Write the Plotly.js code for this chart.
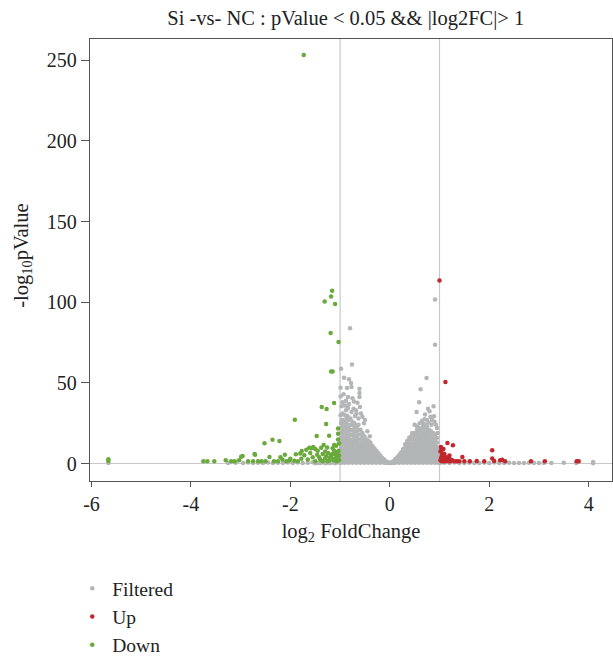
<!DOCTYPE html>
<html><head><meta charset="utf-8">
<script src="https://cdn.plot.ly/plotly-3.0.1.min.js"></script>
<style>html,body{margin:0;padding:0;background:#fff}#chart{width:613px;height:663px}</style>
</head><body><div id="chart"></div>
<script>
// Dense "Filtered" cloud, read column by column (x = log2FC, y = -log10 p)
const lobeX = [-0.98,-0.95,-0.91,-0.87,-0.83,-0.79,-0.75,-0.71,-0.67,-0.63,-0.59,-0.55,-0.51,-0.47,-0.43,-0.39,-0.35,-0.31,-0.27,-0.23,-0.19,-0.15,-0.11,-0.07,-0.03,
               0.03,0.07,0.11,0.15,0.19,0.23,0.27,0.31,0.35,0.39,0.43,0.47,0.51,0.55,0.59,0.63,0.67,0.71,0.75,0.79,0.83,0.87,0.91,0.95,0.98];
const lobeY = [
  [0.5,2,4,6,8,10,13,16,19,22,25],
  [1,3,5,7,9,12,15,18,21,24,27],
  [0.5,2.5,4.5,7,9.5,12,14.5,17,20,23,26],
  [1,3,5.5,8,10.5,13,16,19,22,25,28],
  [0.5,2,4,6.5,9,11.5,14,17,20,23,27],
  [1,3,5,7.5,10,12.5,15,18,21,24,28],
  [0.5,2.5,4.5,7,9.5,12,14.5,17.5,20.5,24,26],
  [1,3,5.5,8,10.5,13,16,19,22,25],
  [0.5,2,4,6.5,9,11.5,14,17,20,23],
  [1,3,5,7.5,10,12.5,15,18,21,24],
  [0.5,2.5,4.5,7,9.5,12,15,18,21],
  [1,3,5.5,8,10.5,13,16,19],
  [0.5,2,4,6.5,9,11.5,14,17],
  [1,3,5,7.5,10,12.5,15],
  [0.5,2.5,4.5,7,9.5,12,14],
  [1,3,5.5,8,10.5,13],
  [0.5,2,4,6.5,9,11],
  [1,3,5,7.5,9.5],
  [0.5,2.5,4.5,6.5,8],
  [1,3,5,6.5],
  [0.5,2,3.5,5],
  [1,2.5,3.5],
  [0.5,1.5,2.5],
  [0.5,1.3],
  [0.3,0.8],
  [0.3,0.8],
  [0.5,1.5],
  [0.5,1.5,2.8],
  [1,2.5,4],
  [0.5,2,3.5,5.5],
  [1,3,5,7],
  [0.5,2.5,4.5,6.5,9],
  [1,3,5,7.5,10,12],
  [0.5,2,4,6.5,9,11.5,14],
  [1,3,5.5,8,10.5,13,16],
  [0.5,2.5,4.5,7,9.5,12,15,17],
  [1,3,5,7.5,10,12.5,15,18],
  [0.5,2,4,6.5,9,11.5,14,17,19],
  [1,3,5.5,8,10.5,13,16,19,21],
  [0.5,2.5,4.5,7,9.5,12,14.5,17,20,22],
  [1,3,5,7.5,10,12.5,15,18,21],
  [0.5,2,4,6.5,9,11.5,14,17,20,23],
  [1,3,5.5,8,10.5,13,16,19,22],
  [0.5,2.5,4.5,7,9.5,12,14.5,17,20,23],
  [1,3,5,7.5,10,12.5,15,18,21],
  [0.5,2,4,6.5,9,11.5,14,17,20],
  [1,3,5.5,8,10.5,13,16,19],
  [0.5,2.5,4.5,7,9.5,12,15,18],
  [1,3,5,7.5,10,13,16],
  [0.5,2,4,6,8,10]
];
// Scattered Filtered points above the cloud
const scatterX = [-0.80,-0.98,-0.92,-0.82,-0.76,-0.78,-0.86,-0.61,-0.77,-0.99,-0.84,-0.61,-0.61,-0.65,-0.97,-0.84,-0.73,-0.60,-0.77,-0.67,-0.90,-0.55,-0.70,-0.50,-0.95,-0.88,
                  -0.95,-0.90,-0.72,-0.68,-0.58,-0.63,-0.85,-0.93,-0.75,-0.52,-0.45,-0.40,-0.82,-0.99,-0.99,-0.97,-0.88,
                  0.91,0.91,0.74,0.62,0.59,0.80,0.54,0.89,0.71,0.85,0.65,0.78,0.93,0.50,0.70,0.88,0.95,1.01,1.02,
                  0.60,0.68,0.75,0.82,0.90,0.96,0.55,0.45,0.84,0.77,0.72];
const scatterY = [83.9,58.8,53.2,52.2,61.4,49.9,46.8,46.4,47.4,41.6,41.2,43.7,41.2,37.7,35.5,34.4,34.0,35.0,31.9,30.9,30.0,29.0,29.5,27.0,31.0,33.0,
                  38.0,36.0,38.5,33.0,31.0,28.0,29.5,43.0,40.5,25.0,20.0,17.0,37.0,47.0,30.0,27.0,39.0,
                  101.7,73.6,53.0,46.0,38.0,32.4,32.0,29.3,30.5,27.0,26.5,25.5,24.0,24.0,27.5,35.5,22.0,0.5,1.0,
                  25.0,24.5,27.0,29.0,26.0,19.0,23.0,19.0,24.0,34.0,24.0];
// Non-significant tails beyond |log2FC| > 1
const tailX = [-5.66,-3.25,-3.10,-2.95,-2.85,-2.75,-2.65,-2.55,-2.45,-2.35,-2.25,-2.15,-2.05,-1.95,-1.85,-1.75,-1.65,-1.55,-1.45,-1.35,-1.25,-1.15,-1.05,-1.50,-1.40,-1.30,-1.20,-1.10,-1.02,
               1.05,1.10,1.20,1.30,1.40,1.50,1.60,1.70,1.80,1.90,2.00,2.10,2.20,2.30,2.40,2.50,2.60,2.70,2.80,2.90,3.00,3.10,3.25,3.50,3.75,4.09,4.09];
const tailY = [0.3,0.4,0.5,0.3,0.6,0.4,0.5,0.3,0.6,0.4,0.5,0.3,0.7,0.4,0.6,0.3,0.5,0.8,0.4,0.9,0.5,0.7,1.0,0.2,0.3,0.2,0.4,0.2,0.6,
               0.8,0.5,0.3,0.6,0.4,0.3,0.5,0.4,0.3,0.5,0.4,0.6,0.3,0.4,0.5,0.3,0.4,0.3,0.5,0.3,0.4,0.3,0.4,0.5,0.3,0.2,1.0];

const upX = [1.00,1.12,1.03,1.16,1.27,2.06,1.06,1.07,1.46,2.06,2.22,2.26,1.75,1.61,2.32,2.84,3.12,3.76,3.80,1.35,
             1.02,1.03,1.04,1.05,1.06,1.08,1.10,1.12,1.15,1.18,1.20,1.22,1.25,1.30,1.02,1.04,1.10,1.08,1.20,1.13,1.50,1.40,1.90,2.10];
const upY = [113.5,50.5,10.3,12.7,11.3,8.2,6.2,4.5,4.1,3.1,2.0,2.4,1.6,1.4,1.4,1.4,1.4,1.5,1.5,1.5,
             2.0,3.5,1.4,5.0,2.5,1.5,3.0,1.4,2.0,1.5,3.0,1.4,2.2,1.5,7.5,8.5,6.0,9.0,5.0,4.0,1.4,1.4,1.4,1.6];

const downX = [-1.73,-1.16,-1.18,-1.31,-1.10,-1.19,-1.03,-1.18,-1.15,-1.37,-1.27,-1.12,-1.28,-1.47,-1.22,-1.04,-1.04,-1.91,-2.52,-2.36,-2.22,-1.54,-1.77,-2.72,-2.96,-2.42,-2.20,-2.11,-1.89,-1.80,-2.02,-3.03,-3.30,-3.19,-3.12,-3.75,-3.67,-3.53,-5.66,-5.66,-2.99,-2.71,
               -1.58,-1.50,-1.45,-1.38,-1.33,-1.26,-1.18,-1.12,-1.08,-1.06,-1.10,-1.20,-1.30,-1.42,-1.50,-1.65,-1.72,-1.78,-1.85,-1.92,-2.00,-2.08,-2.16,-2.25,-2.33,-2.50,-2.58,-2.65,-2.75,-2.85,
               -1.02,-1.02,-1.03,-1.05,-1.07,-1.09,-1.13,-1.15,-1.15,-1.17,-1.22,-1.24,-1.28,-1.35,-1.40,-1.46,-1.55,-1.60,-1.62,-1.68,-1.30,-1.25,-1.35,-1.12,-1.02,-1.04];
const downY = [253.3,107.2,103.5,100.4,99.0,81.0,75.3,57.1,57.1,35.0,33.8,37.5,24.5,17.1,17.3,21.8,18.5,27.2,12.6,14.8,14.0,10.3,7.8,6.0,4.7,4.1,3.9,5.5,5.8,6.2,1.9,2.0,2.0,1.4,1.4,1.4,1.4,1.4,2.7,1.6,4.3,5.4,
               9.5,9.0,8.0,9.8,11.5,10.0,5.5,8.0,11.0,7.0,3.0,4.0,3.2,4.0,1.5,2.5,5.2,3.0,1.4,1.8,3.0,1.4,2.5,1.5,1.4,1.4,1.5,1.4,1.4,1.4,
               2.0,5.0,8.0,4.0,1.5,5.5,2.0,6.0,9.5,3.5,2.0,6.5,4.5,6.0,2.5,5.5,4.0,6.5,9.8,8.5,7.5,1.4,1.5,11.5,12.5,15.0];

const thresholds = [-1, 1];
const xTicks = [-6,-4,-2,0,2,4];
const yTicks = [0,50,100,150,200,250];

const filtX = [], filtY = [];
lobeX.forEach((x, i) => lobeY[i].forEach(y => { filtX.push(x); filtY.push(y); }));
scatterX.forEach((x, i) => { filtX.push(x); filtY.push(scatterY[i]); });
tailX.forEach((x, i) => { filtX.push(x); filtY.push(tailY[i]); });

const FONT = 'Liberation Serif, Times New Roman, serif';
const GRAY = '#b3b6b6', RED = '#c1272d', GREEN = '#6aaa3c';

const traces = [
  {type:'scatter', mode:'markers', name:'Filtered', x:filtX, y:filtY, legendgroup:'a',
   marker:{color:GRAY, size:4.5}},
  {type:'scatter', mode:'markers', name:'Up', x:upX, y:upY, legendgroup:'b',
   marker:{color:RED, size:4.5}},
  {type:'scatter', mode:'markers', name:'Down', x:downX, y:downY, legendgroup:'c',
   marker:{color:GREEN, size:4.5}}
];

const layout = {
  width:613, height:663,
  margin:{l:90, r:1, t:39, b:182, autoexpand:false},
  paper_bgcolor:'#fff', plot_bgcolor:'#fff',
  font:{family:FONT, size:20, color:'#222'},
  title:{text:'Si -vs- NC : pValue &lt; 0.05 &amp;&amp; |log2FC|&gt; 1', x:0.49, xref:'paper', y:0.973, yanchor:'middle', font:{size:20.5, family:FONT, color:'#222'}},
  xaxis:{range:[-6.03,4.47], tickvals:xTicks, ticktext:xTicks.map(String), ticks:'outside', ticklen:5, tickcolor:'#555',
         showline:true, linecolor:'#555', linewidth:1.3, mirror:true, showgrid:false, zeroline:false,
         title:{text:'log<sub>2</sub> FoldChange', font:{size:20.5, family:FONT}, standoff:9},
         tickfont:{size:20, family:FONT}},
  yaxis:{range:[-10.8,263.2], tickvals:yTicks, ticktext:yTicks.map(String), ticks:'outside', ticklen:8, tickcolor:'#555',
         showline:true, linecolor:'#555', linewidth:1.3, mirror:true, showgrid:false,
         zeroline:true, zerolinecolor:'#c8c8c8', zerolinewidth:1,
         tickfont:{size:20, family:FONT}},
  annotations:[{text:'-log<sub>10</sub>pValue', xref:'paper', yref:'paper', x:-0.13, y:0.51, xanchor:'center', yanchor:'middle',
                textangle:-90, showarrow:false, font:{size:20.5, family:FONT, color:'#222'}}],
  shapes: thresholds.map(t => ({type:'line', xref:'x', yref:'paper', x0:t, x1:t, y0:0, y1:1, layer:'below',
                                line:{color:'#c8c8c8', width:1.2}})),
  showlegend:true,
  legend:{orientation:'v', x:-0.034, xanchor:'left', y:-0.199, yanchor:'top', traceorder:'grouped', tracegroupgap:0,
          font:{size:19.5, family:FONT, color:'#222'}, bgcolor:'rgba(0,0,0,0)'}
};

Plotly.newPlot('chart', traces, layout, {displayModeBar:false, staticPlot:true});
</script></body></html>
